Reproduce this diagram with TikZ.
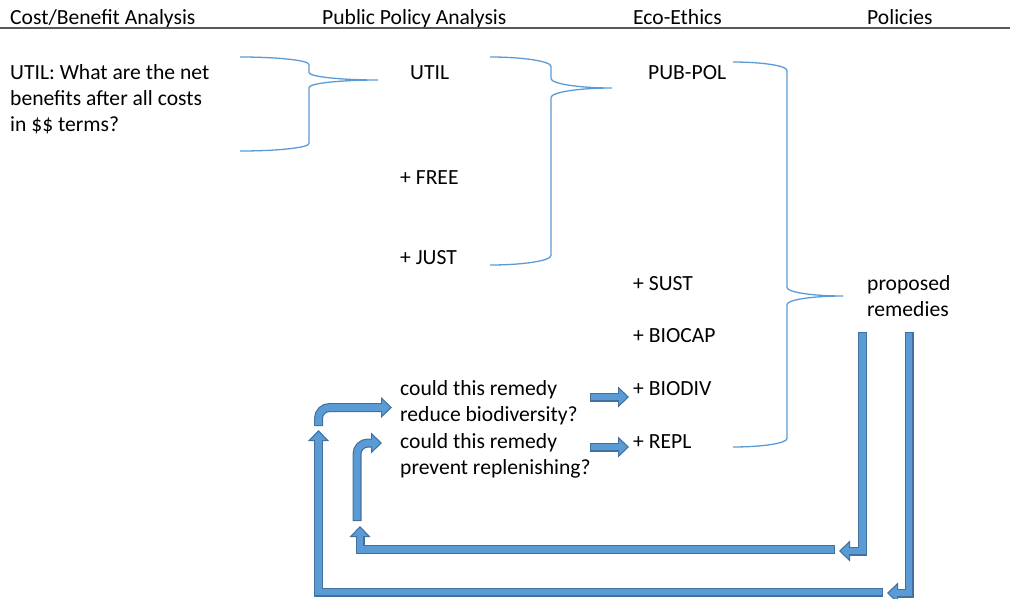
\documentclass[tikz,border=0pt]{standalone}
\usepackage{fontspec}
\setmainfont{Carlito}
\usetikzlibrary{arrows.meta}

\definecolor{bracecol}{HTML}{5B9BD5}
\definecolor{pipefill}{HTML}{5B9BD5}
\definecolor{pipeline}{HTML}{41719C}
\definecolor{rulecol}{HTML}{595959}

% right curly brace: ends x, spine x, tip x; top y, tip y, bottom y; corner
\newcommand{\curly}[7]{%
  \draw[brace line] (#1,#4) .. controls ({#1+0.55*(#2-#1)},#4) and (#2,{#4+0.45*#7}) .. (#2,{#4+#7})
    -- (#2,{#5-#7}) .. controls (#2,{#5-0.45*#7}) and ({#3-0.55*(#3-#2)},#5) .. (#3,#5)
    .. controls ({#3-0.55*(#3-#2)},#5) and (#2,{#5+0.45*#7}) .. (#2,{#5+#7})
    -- (#2,{#6-#7}) .. controls (#2,{#6-0.45*#7}) and ({#1+0.55*(#2-#1)},#6) .. (#1,#6);
}
% block arrow: dark outline pass, then the light core
\newcommand{\pipe}[2][]{\draw[pipe,#1] #2; \draw[pipe core,#1] #2;}

\begin{document}
\begin{tikzpicture}[x=1pt, y=-1pt,
  txt/.style={anchor=base west, inner sep=0pt, align=left, font=\fontsize{21.6pt}{26pt}\selectfont},
  brace line/.style={line width=1.3pt, draw=bracecol},
  pipe/.style={line width=9pt, draw=pipeline, -{Triangle[length=11pt,width=21pt,line width=0pt]}},
  pipe core/.style={line width=6.6pt, draw=pipefill, shorten <=1.2pt, shorten >=1.74pt,
    -{Triangle[length=8.1pt,width=15.4pt,line width=0pt]}},
  bent/.style={rounded corners=11pt}]

  \useasboundingbox (0,0) rectangle (1010,598);

  % column heads
  \node[txt] (hcba) at (10,24) {Cost/Benefit Analysis};
  \node[txt] (hppa) at (322,24) {Public Policy Analysis};
  \node[txt] (heco) at (633,24) {Eco-Ethics};
  \node[txt] (hpol) at (867,24) {Policies};
  \draw[rulecol, line width=1.5pt] (0,28) -- (1010,28);

  % body text (multi-line nodes sit on their last line)
  \node[txt] (cba) at (10,131) {UTIL: What are the net\\benefits after all costs\\in \$\$ terms?};
  \node[txt] (util) at (410,79) {UTIL};
  \node[txt] (free) at (400,184) {+ FREE};
  \node[txt] (just) at (400,264) {+ JUST};
  \node[txt] (pubpol) at (648,79) {PUB-POL};
  \node[txt] (sust) at (633,290) {+ SUST};
  \node[txt] (biocap) at (633,342) {+ BIOCAP};
  \node[txt] (biodiv) at (633,395) {+ BIODIV};
  \node[txt] (repl) at (633,448) {+ REPL};
  \node[txt] (remedy) at (867,316) {proposed\\remedies};
  \node[txt] (qdiv) at (400,421) {could this remedy\\reduce biodiversity?};
  \node[txt] (qrep) at (400,474) {could this remedy\\prevent replenishing?};

  % braces
  \curly{240}{309}{378}{57}{80}{151}{7.5}
  \curly{490}{551}{612}{57}{88}{265}{9.5}
  \curly{733}{787}{843}{62}{296}{447}{8.5}

  % arrow ends
  \coordinate (divfrom) at (590,397);
  \coordinate (divto) at (629,397);
  \coordinate (repfrom) at (590,447);
  \coordinate (repto) at (629,447);
  \coordinate (outtop) at (909,332);
  \coordinate (outturn) at (887,593);
  \coordinate (outbar) at (883,592);
  \coordinate (outup) at (318.5,430);
  \coordinate (outbend) at (318.5,426);
  \coordinate (outq) at (392,407.5);
  \coordinate (intop) at (862.5,332);
  \coordinate (inturn) at (839,551);
  \coordinate (inbar) at (835,549.5);
  \coordinate (inup) at (360,526);
  \coordinate (inbend) at (357,521);
  \coordinate (inq) at (382,443);

  % feedback loops
  \pipe{(outtop) |- (outturn)}
  \pipe{(outbar) -| (outup)}
  \pipe[bent]{(outbend) |- (outq)}
  \pipe{(intop) |- (inturn)}
  \pipe{(inbar) -| (inup)}
  \pipe[bent]{(inbend) |- (inq)}
  \pipe{(divfrom) -- (divto)}
  \pipe{(repfrom) -- (repto)}
\end{tikzpicture}
\end{document}
